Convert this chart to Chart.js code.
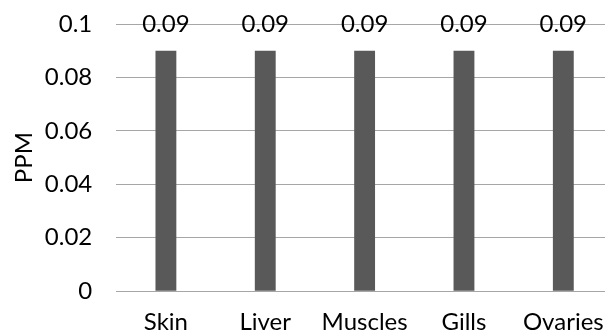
<!DOCTYPE html>
<html lang="en">
<head>
<meta charset="UTF-8">
<title>PPM</title>
<script src="https://cdn.jsdelivr.net/npm/chart.js@4.4.1/dist/chart.umd.min.js"></script>
<style>
  html, body { margin: 0; padding: 0; background: #fff; overflow: hidden; }
  #wrap { position: absolute; left: 0; top: 0; width: 613px; height: 333px; }
</style>
</head>
<body>
<div id="wrap"><canvas id="myChart" width="613" height="333"></canvas></div>
<script>
  const organs = ['Skin', 'Liver', 'Muscles', 'Gills', 'Ovaries'];
  const ppmValues = [0.09, 0.09, 0.09, 0.09, 0.09];
  const yTicks = [0, 0.02, 0.04, 0.06, 0.08, 0.1];

  const fontFamily = 'Lato, "Open Sans", sans-serif';

  // draws the value above every bar
  const valueLabels = {
    id: 'valueLabels',
    afterDatasetsDraw(chart) {
      const ctx = chart.ctx;
      const meta = chart.getDatasetMeta(0);
      ctx.save();
      ctx.font = '24px ' + fontFamily;
      ctx.fillStyle = '#000';
      ctx.textAlign = 'center';
      ctx.textBaseline = 'middle';
      meta.data.forEach((bar, i) => {
        ctx.fillText(String(ppmValues[i]), bar.x, bar.y - 26);
      });
      ctx.restore();
    }
  };

  const ctx = document.getElementById('myChart').getContext('2d');
  new Chart(ctx, {
    type: 'bar',
    data: {
      labels: organs,
      datasets: [{
        data: ppmValues,
        backgroundColor: '#595959',
        barPercentage: 0.21,
        categoryPercentage: 1
      }]
    },
    options: {
      responsive: false,
      animation: false,
      layout: { padding: { top: 24, left: 10, right: 0, bottom: -21 } },
      plugins: {
        legend: { display: false },
        tooltip: { enabled: false }
      },
      scales: {
        x: {
          afterFit(axis) {
            axis.paddingLeft = 0;
            axis.paddingRight = 0;
          },
          grid: { display: false, drawTicks: false },
          border: { display: false },
          ticks: { color: '#000', font: { family: fontFamily, size: 24 }, padding: 17 }
        },
        y: {
          min: 0,
          max: 0.1,
          afterBuildTicks(axis) {
            axis.ticks = yTicks.map(v => ({ value: v }));
          },
          // tick padding would otherwise be added above the top gridline
          afterFit(axis) {
            axis.paddingTop = 0;
            axis.paddingBottom = 0;
          },
          grid: { color: '#a6a6a6', lineWidth: 1, drawTicks: false },
          border: { display: false },
          ticks: {
            color: '#000',
            padding: 24,
            font: { family: fontFamily, size: 24 },
            callback: v => String(Math.round(v * 100) / 100)
          },
          title: {
            display: true,
            text: 'PPM',
            color: '#000',
            font: { family: fontFamily, size: 24 },
            padding: { top: 0, bottom: -18 }
          }
        }
      }
    },
    plugins: [valueLabels]
  });
</script>
</body>
</html>
